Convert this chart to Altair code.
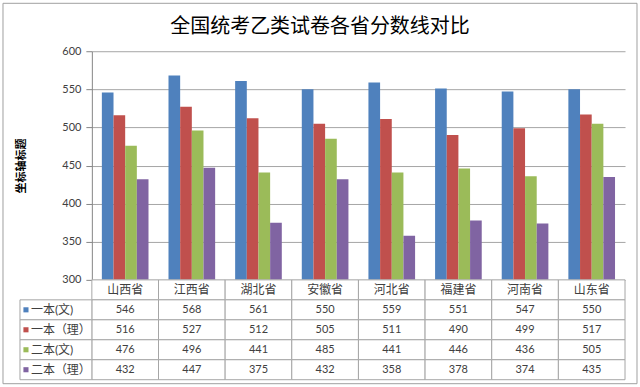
import altair as alt
import pandas as pd

title_text = "全国统考乙类试卷各省分数线对比"
y_title = "坐标轴标题"
categories = ["山西省", "江西省", "湖北省", "安徽省", "河北省", "福建省", "河南省", "山东省"]
series_names = ["一本(文)", "一本（理）", "二本(文)", "二本（理）"]
yiben_wen = [546, 568, 561, 550, 559, 551, 547, 550]
yiben_li = [516, 527, 512, 505, 511, 490, 499, 517]
erben_wen = [476, 496, 441, 485, 441, 446, 436, 505]
erben_li = [432, 447, 375, 432, 358, 378, 374, 435]
y_ticks = [300, 350, 400, 450, 500, 550, 600]
colors = ["#4F81BD", "#C0504D", "#9BBB59", "#8064A2"]

FONT = "Lato, 'Noto Sans CJK SC', sans-serif"
CJK = "'Noto Sans CJK SC', sans-serif"
LINE = "#a6a6a6"

series_values = [yiben_wen, yiben_li, erben_wen, erben_li]
rows = []
for s, vals in zip(series_names, series_values):
    for c, v in zip(categories, vals):
        rows.append({"省份": c, "类别": s, "分数线": v})
df = pd.DataFrame(rows)

color_scale = alt.Scale(domain=series_names, range=colors)

top = alt.Chart(df).mark_bar(clip=True).encode(
    x=alt.X("省份:N", sort=categories, axis=None,
            scale=alt.Scale(domain=categories, paddingInner=0.3, paddingOuter=0.15)),
    xOffset=alt.XOffset("类别:N", sort=series_names, scale=alt.Scale(domain=series_names)),
    y=alt.Y("分数线:Q",
            scale=alt.Scale(domain=[300, 600], nice=False, zero=False),
            axis=alt.Axis(values=y_ticks, title=y_title, titleFont=CJK, titleFontSize=11,
                          titleFontWeight="bold", titleColor="#000000", titlePadding=35,
                          labelFont=FONT, labelFontSize=11, labelColor="#404040", labelPadding=5,
                          tickSize=6, tickColor="#868686", domainColor="#868686",
                          gridColor=LINE)),
    color=alt.Color("类别:N", scale=color_scale, legend=None),
).properties(width=534, height=229)

# table below the plot
row_domain = ["表头"] + series_names
trows = []
for c in categories:
    trows.append({"省份": c, "行": "表头", "文本": c, "大小": 12})
for s, vals in zip(series_names, series_values):
    for c, v in zip(categories, vals):
        trows.append({"省份": c, "行": s, "文本": str(v), "大小": 11})
tdf = pd.DataFrame(trows)

tx = alt.X("省份:N", sort=categories, axis=None,
           scale=alt.Scale(domain=categories, paddingInner=0, paddingOuter=0))
ty = alt.Y("行:N", sort=row_domain, axis=None,
           scale=alt.Scale(domain=row_domain, paddingInner=0, paddingOuter=0))

cells = alt.Chart(tdf).mark_rect(fill="white", stroke=LINE, strokeWidth=1).encode(x=tx, y=ty)
cell_text = alt.Chart(tdf).mark_text(font=FONT, color="#404040").encode(
    x=tx, y=ty, text="文本:N", size=alt.Size("大小:Q", scale=None))

ldf = pd.DataFrame({"行": series_names, "名称": series_names, "类别": series_names})
lcells = alt.Chart(ldf).mark_rect(fill="white", stroke=LINE, strokeWidth=1).encode(
    x=alt.value(-72), x2=alt.value(0), y=ty)
lsq = alt.Chart(ldf).mark_square(size=26, opacity=1).encode(
    x=alt.value(-66), y=ty, color=alt.Color("类别:N", scale=color_scale, legend=None))
ltext = alt.Chart(ldf).mark_text(align="left", font=FONT, fontSize=12, color="#404040").encode(
    x=alt.value(-61), y=ty, text="名称:N")

border = alt.Chart(pd.DataFrame({"k": [0]})).mark_rect(
    fill="white", fillOpacity=0, stroke="#a0a0a0", strokeWidth=1).encode(
    x=alt.value(-89), x2=alt.value(546), y=alt.value(-277), y2=alt.value(104))

bottom = alt.layer(cells, cell_text, lcells, lsq, ltext, border).properties(width=534, height=100)

chart = alt.vconcat(top, bottom, spacing=0, bounds="flush").properties(
    title=alt.TitleParams(title_text, font=CJK, fontSize=20, fontWeight="normal", color="#000000",
                          anchor="middle", frame="bounds", offset=-50, baseline="alphabetic"),
    padding={"left": 2, "top": 2, "right": 2, "bottom": 2},
    autosize=alt.AutoSizeParams(type="pad"),
    background="white",
).configure_view(stroke=None)

chart.save("out.html", embed_options={"renderer": "svg", "actions": False})
